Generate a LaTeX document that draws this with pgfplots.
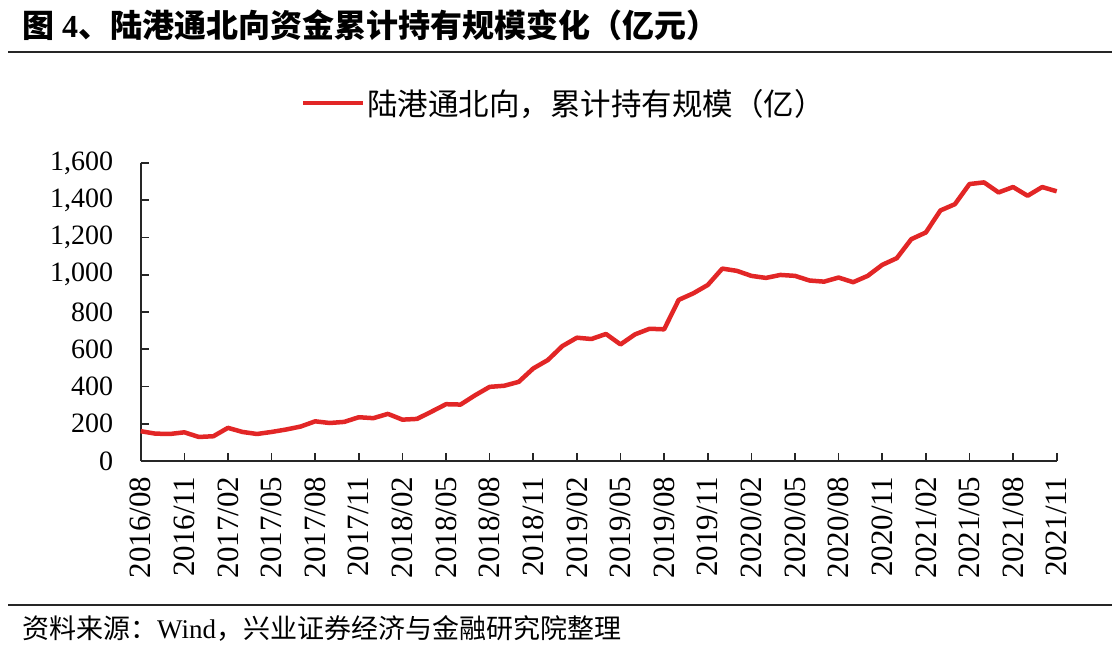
\documentclass[border=0pt]{standalone}
\usepackage{pgfplots}
\pgfplotsset{compat=1.18}
\usepackage{fontspec}
\setmainfont{Liberation Serif}
\newfontfamily\cjk{Noto Sans CJK SC}
\definecolor{lred}{RGB}{226,38,38}
\begin{document}
\begin{tikzpicture}[x=1pt,y=1pt]
\path[use as bounding box] (0,0) rectangle (1119,654);
% title
\node[anchor=west,inner sep=0pt] at (22,629) {\fontsize{32pt}{34pt}\selectfont\bfseries{\cjk 图} 4{\cjk 、陆港通北向资金累计持有规模变化（亿元）}};
\draw[line width=1.5pt,black!85] (8,602) -- (1112,602);
\draw[line width=1.5pt,black!85] (8,49) -- (1112,49);
\node[anchor=west,inner sep=0pt] at (22,26) {\fontsize{27pt}{29pt}\selectfont{\cjk 资料来源：}Wind{\cjk ，兴业证券经济与金融研究院整理}};
\begin{axis}[
  at={(140.7pt,193pt)}, anchor=south west,
  scale only axis, width=916pt, height=298pt,
  xmin=0, xmax=63, ymin=0, ymax=1600,
  axis lines*=left,
  axis line style={line width=1.6pt,black!85,-},
  every tick/.style={line width=1.6pt,black!85},
  tick align=inside,
  major tick length=8pt,
  xtick={0,3,...,63},
  xticklabels={2016/08,2016/11,2017/02,2017/05,2017/08,2017/11,2018/02,2018/05,2018/08,2018/11,2019/02,2019/05,2019/08,2019/11,2020/02,2020/05,2020/08,2020/11,2021/02,2021/05,2021/08,2021/11},
  ytick={0,200,...,1600},
  /pgf/number format/assume math mode=true,
  /pgf/number format/1000 sep={,},
  yticklabel style={font=\fontsize{28pt}{30pt}\selectfont, xshift=-24pt},
  xticklabel style={font=\fontsize{31pt}{33pt}\selectfont, rotate=90, anchor=east, xshift=-12pt},
  legend style={at={(0.462,1)}, anchor=center, yshift=60pt, draw=none, fill=none,
    font=\fontsize{30.5pt}{32pt}\selectfont\cjk},
  legend image code/.code={\draw[#1,line width=4.5pt] (0pt,0pt) -- (60pt,0pt);},
  clip=false,
]
\addplot[color=lred, line width=4.5pt, line join=round, no marks] coordinates {
(0,160)(1,147)(2,145)(3,154)(4,129)(5,133)(6,178)(7,156)(8,145)(9,156)
(10,169)(11,185)(12,213)(13,204)(14,210)(15,235)(16,230)(17,253)(18,222)(19,226)
(20,265)(21,305)(22,303)(23,353)(24,398)(25,404)(26,425)(27,497)(28,542)(29,617)
(30,662)(31,655)(32,682)(33,626)(34,680)(35,710)(36,707)(37,865)(38,900)(39,945)
(40,1033)(41,1021)(42,994)(43,983)(44,999)(45,994)(46,969)(47,963)(48,985)(49,960)
(50,994)(51,1053)(52,1089)(53,1191)(54,1227)(55,1345)(56,1379)(57,1487)(58,1496)(59,1442)
(60,1471)(61,1424)(62,1471)(63,1448)
};
\addlegendentry{陆港通北向，累计持有规模（亿）}
\end{axis}
\end{tikzpicture}
\end{document}
